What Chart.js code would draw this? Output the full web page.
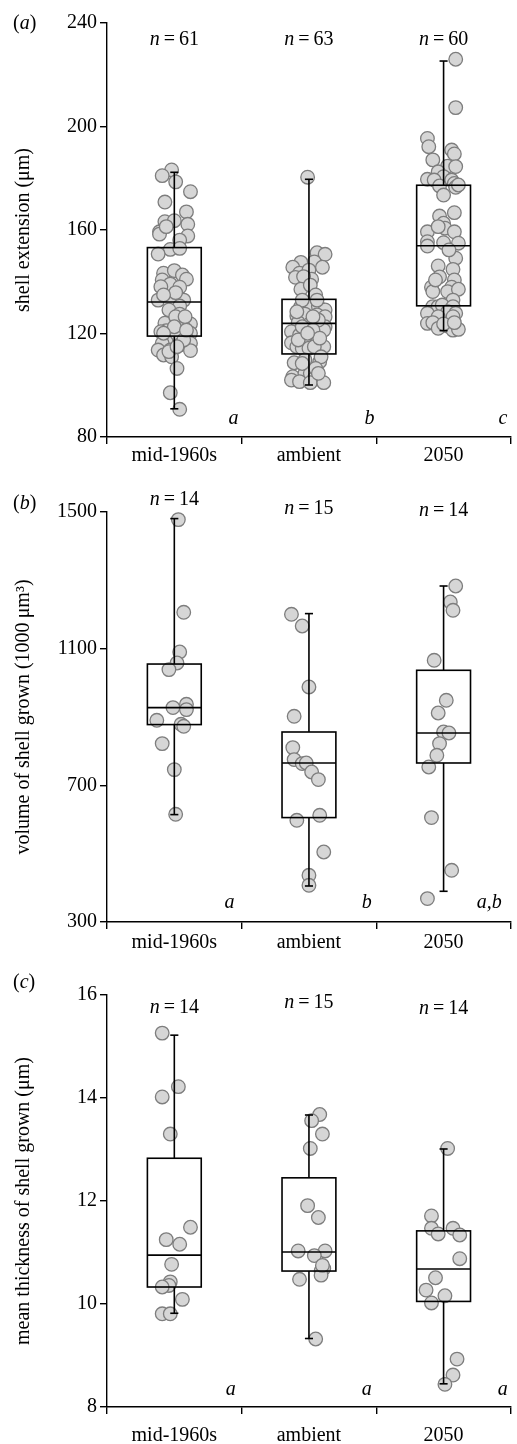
<!DOCTYPE html>
<html>
<head>
<meta charset="utf-8">
<script src="https://cdn.jsdelivr.net/npm/chart.js@4.4.1/dist/chart.umd.min.js"></script>
<style>
  html, body { margin: 0; padding: 0; background: #fff; }
  body { width: 517px; height: 1444px; overflow: hidden; }
  canvas { display: block; }
</style>
</head>
<body>
<canvas id="chartA" width="519" height="481"></canvas>
<canvas id="chartB" width="519" height="481"></canvas>
<canvas id="chartC" width="519" height="482"></canvas>
<script>
// categories
const groups = ["mid-1960s", "ambient", "2050"];

// (a) shell extension (µm)
const extTicks = [80, 120, 160, 200, 240];
const extN = [61, 63, 60];
const extLetters = ["a", "b", "c"];
// [lower whisker, q1, median, q3, upper whisker]
const extStats = [
  [90.9, 119.0, 132.2, 153.2, 182.3],
  [100.1, 112.1, 123.9, 133.2, 179.6],
  [121.1, 130.7, 153.9, 177.3, 225.3]
];
const extMid = [183.2, 181.0, 178.6, 174.8, 170.8, 167.0, 163.2, 163.6, 162.2, 159.3, 158.4, 157.7, 156.1, 152.5, 152.9, 150.7,
  143.3, 144.3, 142.6, 141.0, 140.7, 139.1, 137.9, 138.1, 132.9, 132.9, 131.7, 130.6, 129.1, 127.5, 124.0, 123.7, 122.4,
  121.1, 120.7, 120.1, 119.4, 118.2, 116.8, 116.2, 116.2, 115.6, 113.6, 113.6, 113.4, 111.7, 111.0, 106.5, 97.1, 90.7,
  135.8, 134.9, 126.5, 122.6, 126.5, 120.1, 117.5, 113.0, 114.9, 121.3, 161.3];
const extMidJit = [-0.02, -0.09, 0.01, 0.12, -0.07, 0.09, -0.07, 0, 0.10, -0.11, -0.11, 0.10, 0.04, -0.03, 0.04, -0.12,
  -0.08, 0, 0.06, 0.09, -0.09, -0.03, 0.04, -0.10, -0.12, 0.07, -0.03, 0.04, -0.04, 0.04, -0.07, 0.12, 0.07,
  -0.06, -0.10, 0.12, 0.02, 0.09, -0.06, -0.09, 0.12, 0.04, -0.12, -0.03, 0.12, -0.08, -0.02, 0.02, -0.03, 0.04,
  0.01, -0.08, 0.01, 0, 0.08, -0.08, 0.07, -0.04, 0.02, 0.09, -0.06];
const extAmb = [180.4, 151.2, 150.6, 147.5, 145.6, 147.7, 145.6, 143.3, 144.5, 141.7, 141.0, 142.0, 137.1, 138.7, 134.9,
  130.4, 130.4, 130.4, 129.1, 126.8, 127.5, 127.2, 126.5, 124.2, 123.9, 122.6, 121.3, 120.7, 119.4, 118.2, 118.8,
  116.4, 114.9, 114.3, 116.4, 114.9, 114.3, 114.9, 108.7, 109.8, 109.1, 111.0, 103.3, 104.6, 104.6, 102.7, 102.0,
  101.4, 101.0, 101.0, 108.4, 106.5, 125.2, 122.6, 121.3, 117.5, 118.2, 132.9, 132.9, 128.4, 126.5, 120.1, 104.6];
const extAmbJit = [-0.01, 0.06, 0.12, -0.06, -0.12, 0.04, 0.10, -0.07, 0, -0.10, 0.02, -0.04, -0.06, 0.01, 0.05,
  -0.06, 0.01, 0.07, 0.12, -0.09, -0.03, 0.06, 0.12, -0.08, 0.01, 0.12, 0.11, -0.13, -0.07, -0.02, 0.05,
  -0.13, -0.09, -0.05, 0.06, 0.11, 0, 0.04, -0.11, -0.03, 0.08, 0.09, -0.12, -0.03, 0.01, 0.04, -0.13,
  -0.07, 0.01, 0.11, -0.05, 0.05, 0.07, -0.05, 0.03, -0.08, 0.08, -0.05, 0.06, -0.09, 0.03, -0.01, 0.07];
const ext2050 = [226.0, 207.3, 195.4, 192.2, 190.9, 189.4, 187.1, 184.7, 184.5, 182.5, 180.6, 179.6, 179.3, 179.3, 178.0,
  177.0, 176.5, 173.5, 166.7, 165.4, 162.6, 160.7, 159.3, 159.3, 155.5, 155.1, 154.9, 153.8, 149.1, 146.1, 144.8,
  141.9, 140.7, 137.9, 137.9, 136.2, 136.2, 137.1, 132.9, 130.4, 130.4, 131.0, 130.4, 127.8, 128.4, 127.8, 126.5,
  126.5, 123.9, 124.2, 122.0, 122.9, 121.3, 121.6, 123.7, 124.2, 177.4, 161.3, 152.3, 140.7];
const ext2050Jit = [0.09, 0.09, -0.12, -0.11, 0.06, 0.08, -0.08, 0.03, 0.09, -0.04, 0, -0.12, -0.07, 0.06, 0.08,
  -0.03, 0.09, 0, 0.08, -0.03, 0, 0.01, -0.12, 0.08, -0.12, 0, 0.11, -0.12, 0.09, -0.04, 0.07,
  -0.03, 0.08, -0.09, 0.06, -0.08, 0.03, 0.11, 0.07, -0.08, -0.04, -0.01, 0.07, -0.12, 0.03, 0.09, -0.04,
  0.07, -0.12, -0.08, -0.04, 0.03, 0.07, 0.11, 0, 0.08, 0.11, -0.04, 0.04, -0.06];

// (b) volume of shell grown (1000 µm³)
const volTicks = [300, 700, 1100, 1500];
const volN = [14, 15, 14];
const volLetters = ["a", "b", "a,b"];
const volStats = [
  [614.3, 877.8, 927.5, 1055.0, 1480.7],
  [405.4, 605.6, 765.4, 856.1, 1202.6],
  [389.9, 765.4, 853.2, 1036.7, 1283.4]
];
const volMid = [1477.7, 1206.4, 1090.2, 1058.0, 1038.7, 927.5, 937.2, 921.6, 890.3, 878.6, 872.8, 822.1, 746.0, 615.2];
const volMidJit = [0.03, 0.07, 0.04, 0.02, -0.04, -0.01, 0.09, 0.09, -0.13, 0.05, 0.07, -0.09, 0, 0.01];
const volAmb = [1200.6, 1166.3, 987.8, 902.0, 810.4, 775.3, 763.6, 765.4, 739.0, 716.8, 597.7, 612.3, 504.9, 436.7, 407.4];
const volAmbJit = [-0.13, -0.05, 0, -0.11, -0.12, -0.11, -0.05, -0.02, 0.02, 0.07, -0.09, 0.08, 0.11, 0, 0];
const vol2050 = [1283.4, 1236.6, 1212.3, 1066.0, 948.9, 911.7, 856.1, 853.2, 822.1, 787.9, 753.6, 605.6, 451.3, 368.5];
const vol2050Jit = [0.09, 0.05, 0.07, -0.07, 0.02, -0.04, 0, 0.04, -0.03, -0.05, -0.11, -0.09, 0.06, -0.12];

// (c) mean thickness of shell grown (µm)
const thkTicks = [8, 10, 12, 14, 16];
const thkN = [14, 15, 14];
const thkLetters = ["a", "a", "a"];
const thkStats = [
  [9.82, 10.33, 10.95, 12.83, 15.22],
  [9.33, 10.64, 11.01, 12.45, 13.67],
  [8.45, 10.05, 10.68, 11.42, 13.01]
];
const thkMid = [15.26, 14.22, 14.02, 13.30, 11.49, 11.25, 11.16, 10.77, 10.43, 10.36, 10.33, 10.09, 9.81, 9.81];
const thkMidJit = [-0.09, 0.03, -0.09, -0.03, 0.12, -0.06, 0.04, -0.02, -0.03, -0.04, -0.09, 0.06, -0.09, -0.03];
const thkAmb = [13.68, 13.56, 13.30, 13.02, 11.91, 11.68, 11.03, 11.03, 10.94, 10.69, 10.64, 10.56, 10.48, 9.32, 10.75];
const thkAmbJit = [0.08, 0.02, 0.10, 0.01, -0.01, 0.07, -0.08, 0.12, 0.04, 0.11, 0.09, 0.09, -0.07, 0.05, 0.10];
const thk2050 = [13.02, 11.71, 11.47, 11.47, 11.36, 11.34, 10.88, 10.51, 10.27, 10.16, 10.02, 8.93, 8.62, 8.44];
const thk2050Jit = [0.03, -0.09, -0.09, 0.07, -0.04, 0.12, 0.12, -0.06, -0.13, 0.01, -0.09, 0.10, 0.07, 0.01];

const FONT = '"Liberation Serif", "Times New Roman", serif';
Chart.defaults.font.family = FONT;
Chart.defaults.color = "#000";

function points(vals, jit, i) {
  return vals.map((v, k) => ({ x: i + jit[k], y: v }));
}

// box, whiskers and median drawn over the points through the scales
const boxPlugin = {
  id: "boxes",
  afterDatasetsDraw(chart, args, opts) {
    const { ctx } = chart;
    const xs = chart.scales.xs;
    const y = chart.scales.y;
    ctx.save();
    ctx.strokeStyle = "#000";
    ctx.lineWidth = 1.6;
    const line = (x1, y1, x2, y2) => {
      ctx.beginPath();
      ctx.moveTo(x1, y1);
      ctx.lineTo(x2, y2);
      ctx.stroke();
    };
    opts.stats.forEach((s, i) => {
      const [lo, q1, med, q3, hi] = s;
      const cx = xs.getPixelForValue(i);
      const left = xs.getPixelForValue(i - 0.2);
      const right = xs.getPixelForValue(i + 0.2);
      const capL = xs.getPixelForValue(i - 0.03);
      const capR = xs.getPixelForValue(i + 0.03);
      const yLo = y.getPixelForValue(lo), yQ1 = y.getPixelForValue(q1);
      const yMed = y.getPixelForValue(med), yQ3 = y.getPixelForValue(q3);
      const yHi = y.getPixelForValue(hi);
      line(cx, yLo, cx, yQ1);
      line(cx, yQ3, cx, yHi);
      line(capL, yLo, capR, yLo);
      line(capL, yHi, capR, yHi);
      ctx.strokeRect(left, yQ3, right - left, yQ1 - yQ3);
      line(left, yMed, right, yMed);
    });
    ctx.restore();
  }
};

// panel tag, n = .. labels and significance letters
const textPlugin = {
  id: "notes",
  afterDraw(chart, args, opts) {
    const { ctx } = chart;
    const xs = chart.scales.xs;
    const y = chart.scales.y;
    const up = "20px " + FONT;
    const it = "italic 20px " + FONT;
    ctx.save();
    ctx.fillStyle = "#000";
    ctx.textBaseline = "alphabetic";
    ctx.textAlign = "left";

    // (a)
    let x = opts.tagX;
    const parts = [["(", up], [opts.tag, it], [")", up]];
    parts.forEach(([t, f]) => {
      ctx.font = f;
      ctx.fillText(t, x, opts.tagY);
      x += ctx.measureText(t).width;
    });

    // n = ..
    opts.n.forEach((n, i) => {
      ctx.font = it;
      const w1 = ctx.measureText("n").width;
      ctx.font = up;
      const rest = "\u2009=\u2009" + n;
      const w2 = ctx.measureText(rest).width;
      const x0 = xs.getPixelForValue(i) - (w1 + w2) / 2;
      const yy = y.getPixelForValue(opts.nY[i]);
      ctx.font = it;
      ctx.fillText("n", x0, yy);
      ctx.font = up;
      ctx.fillText(rest, x0 + w1, yy);
    });

    ctx.font = it;
    ctx.textAlign = "center";
    opts.letters.forEach((l, i) => {
      ctx.fillText(l, xs.getPixelForValue(opts.letterX[i]), y.getPixelForValue(opts.letterY));
    });
    ctx.restore();
  }
};

function makeChart(id, cfg) {
  const dotStyle = {
    type: "scatter",
    xAxisID: "xs",
    pointRadius: 6.8,
    pointHoverRadius: 6.8,
    pointBackgroundColor: "#d6d6d6",
    pointBorderColor: "#7d7d7d",
    pointBorderWidth: 1.3
  };
  return new Chart(document.getElementById(id), {
    type: "scatter",
    data: {
      labels: groups,
      datasets: cfg.series.map(([vals, jit], i) => ({ ...dotStyle, data: points(vals, jit, i) }))
    },
    options: {
      responsive: false,
      animation: false,
      devicePixelRatio: 1,
      layout: { padding: { left: 0, right: 0, top: cfg.padTop, bottom: 0 } },
      plugins: {
        legend: { display: false },
        tooltip: { enabled: false },
        boxes: { stats: cfg.stats },
        notes: cfg.notes
      },
      scales: {
        x: {
          type: "category",
          labels: groups,
          offset: true,
          position: "bottom",
          grid: { offset: true, drawOnChartArea: false, drawTicks: true, tickLength: 7, color: "#000", lineWidth: 1.4 },
          border: { display: true, color: "#000", width: 1.4 },
          ticks: { font: { size: 20 }, color: "#000", padding: cfg.xPad, maxRotation: 0 },
          afterFit: (s) => { s.height = cfg.xHeight; }
        },
        xs: {
          type: "linear",
          display: false,
          min: -0.5,
          max: 2.5
        },
        y: {
          type: "linear",
          min: cfg.ticks[0],
          max: cfg.ticks[cfg.ticks.length - 1],
          afterBuildTicks: (s) => { s.ticks = cfg.ticks.map((v) => ({ value: v })); },
          grid: { drawOnChartArea: false, drawTicks: true, tickLength: 7, color: "#000", lineWidth: 1.4 },
          border: { display: true, color: "#000", width: 1.4 },
          ticks: { font: { size: 20 }, color: "#000", padding: 3, callback: (v) => String(v) },
          title: { display: true, text: cfg.title, font: { size: 20 }, color: "#000", padding: { top: 12, bottom: 0 } },
          afterFit: (s) => { s.width = 107; }
        }
      }
    },
    plugins: [boxPlugin, textPlugin]
  });
}

makeChart("chartA", {
  series: [[extMid, extMidJit], [extAmb, extAmbJit], [ext2050, ext2050Jit]],
  stats: extStats,
  ticks: extTicks,
  title: "shell extension (\u03bcm)",
  padTop: 23,
  xHeight: 44,
  xPad: 0,
  notes: {
    tag: "a", tagX: 13, tagY: 29,
    n: extN, nY: [231.5, 231.5, 231.5],
    letters: extLetters, letterX: [0.44, 1.45, 2.44], letterY: 85.0
  }
});

makeChart("chartB", {
  series: [[volMid, volMidJit], [volAmb, volAmbJit], [vol2050, vol2050Jit]],
  stats: volStats,
  ticks: volTicks,
  title: "volume of shell grown (1000\u2009\u03bcm\u00b3)",
  padTop: 31,
  xHeight: 40,
  xPad: 2,
  notes: {
    tag: "b", tagX: 13, tagY: 28,
    n: volN, nY: [1519.6, 1495.3, 1487.4],
    letters: volLetters, letterX: [0.41, 1.43, 2.34], letterY: 342
  }
});

makeChart("chartC", {
  series: [[thkMid, thkMidJit], [thkAmb, thkAmbJit], [thk2050, thk2050Jit]],
  stats: thkStats,
  ticks: thkTicks,
  title: "mean thickness of shell grown (\u03bcm)",
  padTop: 33,
  xHeight: 37,
  xPad: 10,
  notes: {
    tag: "c", tagX: 13, tagY: 26,
    n: thkN, nY: [15.66, 15.74, 15.63],
    letters: thkLetters, letterX: [0.42, 1.43, 2.44], letterY: 8.23
  }
});
</script>
</body>
</html>
